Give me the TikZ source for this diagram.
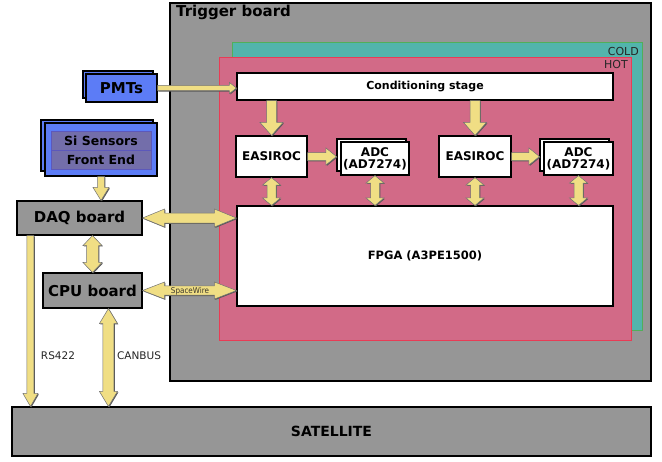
\documentclass[tikz,border=0pt]{standalone}
\usepackage{fontspec}
\setmainfont{DejaVu Sans}
\newfontfamily\condfont{DejaVu Sans Condensed}
\usetikzlibrary{calc,shadows}
\definecolor{trig}{RGB}{150,150,150}
\definecolor{coldfill}{RGB}{82,180,172}
\definecolor{coldline}{RGB}{80,175,90}
\definecolor{hotfill}{RGB}{210,106,135}
\definecolor{hotline}{RGB}{232,60,85}
\definecolor{bluebox}{RGB}{92,124,246}
\definecolor{purplebox}{RGB}{115,110,170}
\definecolor{arrowfill}{RGB}{240,222,132}
\newcommand{\fs}[1]{\fontsize{#1}{#1}\selectfont}
\tikzset{
  whitebox/.style={draw=black, line width=1.1pt, fill=white, inner sep=0pt, font=\bfseries\fs{11.5}, align=center},
  graybox/.style={draw=black, line width=1.1pt, fill=trig, inner sep=0pt, font=\bfseries\fs{15}},
  bluestack/.style={draw=black, line width=1.1pt, fill=bluebox, inner sep=0pt},
  fatarrow/.style={fill=arrowfill, draw=black!55, line width=0.5pt, line join=miter,
     drop shadow={shadow xshift=0.9pt, shadow yshift=-0.9pt, fill=black!65, opacity=1}},
  lbl/.style={font=\fs{10.5}, text=black!85, inner sep=0pt}
}
\newcommand{\sarrow}[5]{%
  \coordinate (faH) at ($(#2)!#5!(#1)$);
  \path[fatarrow] ($(#1)!#3!90:(#2)$) -- ($(faH)!#3!-90:(#1)$) -- ($(faH)!#4!-90:(#1)$) -- (#2)
     -- ($(faH)!#4!90:(#1)$) -- ($(faH)!#3!90:(#1)$) -- ($(#1)!#3!-90:(#2)$) -- cycle;}
\newcommand{\darrow}[5]{%
  \coordinate (faA) at ($(#1)!#5!(#2)$);
  \coordinate (faB) at ($(#2)!#5!(#1)$);
  \path[fatarrow] (#1) -- ($(faA)!#4!90:(#2)$) -- ($(faA)!#3!90:(#2)$) -- ($(faB)!#3!-90:(#1)$)
     -- ($(faB)!#4!-90:(#1)$) -- (#2) -- ($(faB)!#4!90:(#1)$) -- ($(faB)!#3!90:(#1)$)
     -- ($(faA)!#3!-90:(#2)$) -- ($(faA)!#4!-90:(#2)$) -- cycle;}
\begin{document}
\begin{tikzpicture}[x=1pt,y=-1pt]
\useasboundingbox[fill=white] (0,0) rectangle (662,461);
% containers
\draw[fill=trig, line width=1.2pt] (170,3) rectangle (651,381);
\node[anchor=north west, inner sep=0pt, font=\bfseries\fs{15}] (trigl) at (176,5) {Trigger board};
\draw[fill=coldfill, draw=coldline, line width=1pt] (232,42) rectangle (642,330);
\node[anchor=base east, lbl, font=\fs{11}] (coldl) at (639,55) {COLD};
\draw[fill=hotfill, draw=hotline, line width=1pt] (219,57) rectangle (631,340);
\node[anchor=base east, lbl, font=\fs{11}] (hotl) at (628,68) {HOT};
% inner blocks
\node[whitebox, minimum width=376pt, minimum height=27pt, font=\bfseries\fs{11}] (cond) at (425,86.5) {Conditioning stage};
\node[whitebox, minimum width=71pt, minimum height=41pt, font=\bfseries\fs{12}] (eas1) at (271.5,156.5) {EASIROC};
\node[whitebox, minimum width=72pt, minimum height=41pt, font=\bfseries\fs{12}] (eas2) at (475,156.5) {EASIROC};
\node[whitebox, minimum width=69pt, minimum height=32pt] (adc1b) at (371.5,155) {};
\node[whitebox, minimum width=68pt, minimum height=33pt, font=\bfseries\fs{12}] (adc1) at (375,158.5) {ADC\\(AD7274)};
\node[whitebox, minimum width=69pt, minimum height=32pt] (adc2b) at (574.5,155) {};
\node[whitebox, minimum width=69pt, minimum height=33pt, font=\bfseries\fs{12}] (adc2) at (578.5,158.5) {ADC\\(AD7274)};
\node[whitebox, minimum width=376pt, minimum height=100pt] (fpga) at (425,256) {FPGA (A3PE1500)};
% left blocks
\node[bluestack, minimum width=70pt, minimum height=27pt] (pmtsb) at (118,84.5) {};
\node[bluestack, minimum width=71pt, minimum height=28pt, font=\bfseries\fs{15}] (pmts) at (121.5,88) {PMTs};
\node[bluestack, minimum width=112pt, minimum height=51pt] (sib) at (97,145.5) {};
\node[bluestack, minimum width=112pt, minimum height=53pt] (si) at (101,149.5) {};
\node[draw=purplebox!80!blue, fill=purplebox, minimum width=100pt, minimum height=19pt, inner sep=0pt, font=\bfseries\fs{12.5}] (si1) at (101,140.5) {Si Sensors};
\node[draw=purplebox!80!blue, fill=purplebox, minimum width=100pt, minimum height=19pt, inner sep=0pt, font=\bfseries\fs{12.5}] (si2) at (101,159.5) {Front End};
\node[graybox, minimum width=125pt, minimum height=34pt] (daq) at (79.5,218) {DAQ board};
\node[graybox, minimum width=99pt, minimum height=35pt] (cpu) at (92.5,290.5) {CPU board};
\node[graybox, minimum width=639pt, minimum height=49pt, font=\bfseries\fs{14}] (sat) at (331.5,431.5) {SATELLITE};
% helper coordinates
\coordinate (pmtsEnd) at (pmts.east -| cond.west);
\coordinate (siEnd) at (si.south |- daq.north);
\coordinate (c1) at (cond.south -| eas1.north);
\coordinate (c2) at (cond.south -| eas2.north);
\coordinate (a1) at (eas1.east -| adc1b.west);
\coordinate (a2) at (eas2.east -| adc2b.west);
\coordinate (f1) at (fpga.north -| eas1.south);
\coordinate (f2) at (fpga.north -| adc1.south);
\coordinate (f3) at (fpga.north -| eas2.south);
\coordinate (f4) at (fpga.north -| adc2.south);
\coordinate (daqF) at (daq.east -| fpga.west);
\coordinate (cpuF) at (cpu.east -| fpga.west);
\coordinate (daqC) at (daq.south -| cpu.north);
\coordinate (rsTop) at ($(daq.south west)+(14,0)$);
\coordinate (rsEnd) at (rsTop |- sat.north);
\coordinate (canTop) at ($(cpu.south west)+(66,0)$);
\coordinate (canEnd) at (canTop |- sat.north);
% arrows
\sarrow{pmts.east}{pmtsEnd}{2.7pt}{5.5pt}{7pt}
\sarrow{si.south}{siEnd}{3.5pt}{8pt}{13pt}
\sarrow{c1}{eas1.north}{5pt}{11.5pt}{13pt}
\sarrow{c2}{eas2.north}{5pt}{11.5pt}{13pt}
\sarrow{eas1.east}{a1}{4pt}{8.5pt}{10.5pt}
\sarrow{eas2.east}{a2}{4pt}{8.5pt}{10.5pt}
\darrow{eas1.south}{f1}{4.5pt}{9pt}{7.5pt}
\darrow{adc1.south}{f2}{4.5pt}{9pt}{7.5pt}
\darrow{eas2.south}{f3}{4.5pt}{9pt}{7.5pt}
\darrow{adc2.south}{f4}{4.5pt}{9pt}{7.5pt}
\darrow{daq.east}{daqF}{5pt}{9pt}{22pt}
\darrow{cpu.east}{cpuF}{4.7pt}{8.5pt}{22pt}
\darrow{daqC}{cpu.north}{6pt}{9.5pt}{10pt}
\sarrow{rsTop}{rsEnd}{3.5pt}{7.5pt}{13pt}
\darrow{canTop}{canEnd}{5.5pt}{9pt}{15pt}
% labels
\node[lbl] (rsl) at (58,356) {RS422};
\node[lbl] (canl) at (139,356) {CANBUS};
\node[inner sep=0pt, font=\condfont\fs{8}, text=black!80!olive] (spw) at (190,291) {SpaceWire};
\end{tikzpicture}
\end{document}
